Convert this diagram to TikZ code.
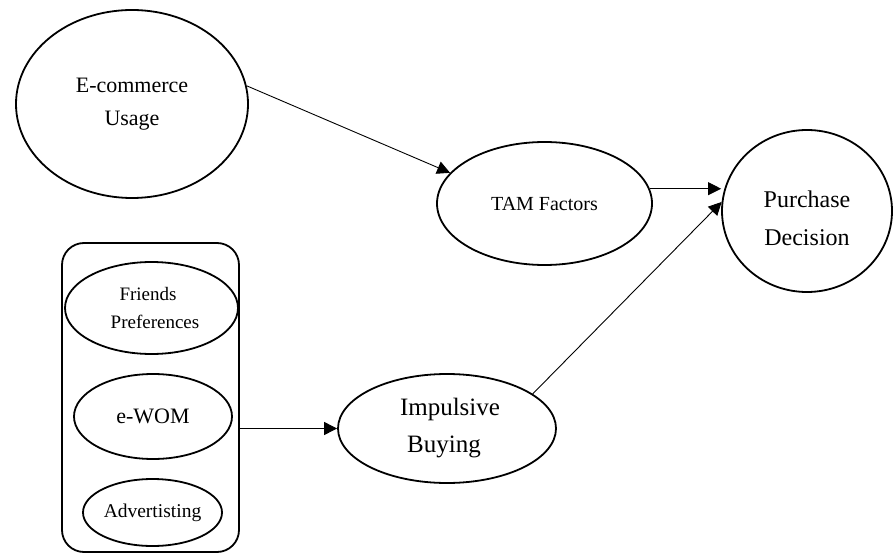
\documentclass[tikz,border=0pt]{standalone}
\usepackage{fontspec}
\setmainfont{Liberation Serif}
\usetikzlibrary{shapes.geometric,arrows.meta}
\begin{document}
\begin{tikzpicture}[x=1pt,y=-1pt,
  oval/.style={ellipse,draw,line width=1.8pt,inner sep=0pt,align=center},
  groupbox/.style={rectangle,draw,line width=1.8pt,rounded corners=22pt,inner sep=0pt},
  link/.style={line width=0.9pt,-{Triangle[length=13pt,width=13pt]}}]
\useasboundingbox (0,0) rectangle (893,553);
\node[oval,minimum width=232pt,minimum height=188pt,font=\fontsize{22}{33}\selectfont] (ec) at (132,104) {E-commerce\\Usage};
\node[oval,minimum width=215pt,minimum height=123pt,font=\fontsize{20}{28}\selectfont] (tam) at (544.5,203.5) {TAM Factors};
\node[oval,minimum width=170pt,minimum height=162pt,
  label={[font=\fontsize{24}{38}\selectfont,align=center,yshift=-7pt]center:Purchase\\Decision}] (pd) at (807,211) {};
\node[groupbox,minimum width=177pt,minimum height=309pt] (box) at (150.5,397.5) {};
\node[oval,minimum width=173pt,minimum height=92pt,font=\fontsize{19}{28}\selectfont] (fp) at (151.5,308) {Friends\hspace*{7pt}\\\hspace*{7pt}Preferences};
\node[oval,minimum width=158pt,minimum height=85pt,font=\fontsize{22}{28}\selectfont] (ew) at (153,416.5) {e-WOM};
\node[oval,minimum width=139pt,minimum height=67pt,font=\fontsize{19.5}{28}\selectfont] (ad) at (152.5,512.5) {Advertisting};
\node[oval,minimum width=218pt,minimum height=109pt,font=\fontsize{25}{37}\selectfont] (ib) at (447,428.5) {\hspace*{6pt}Impulsive\\Buying\hspace*{6pt}};
\draw[link] (ec.9) -- (tam.162);
\draw[link] (tam.8) -- (tam.8 -| pd.west);
\draw[link] (ib.22) -- (pd.174);
\draw[link] (box.east |- ib.west) -- (ib.west);
\end{tikzpicture}
\end{document}
